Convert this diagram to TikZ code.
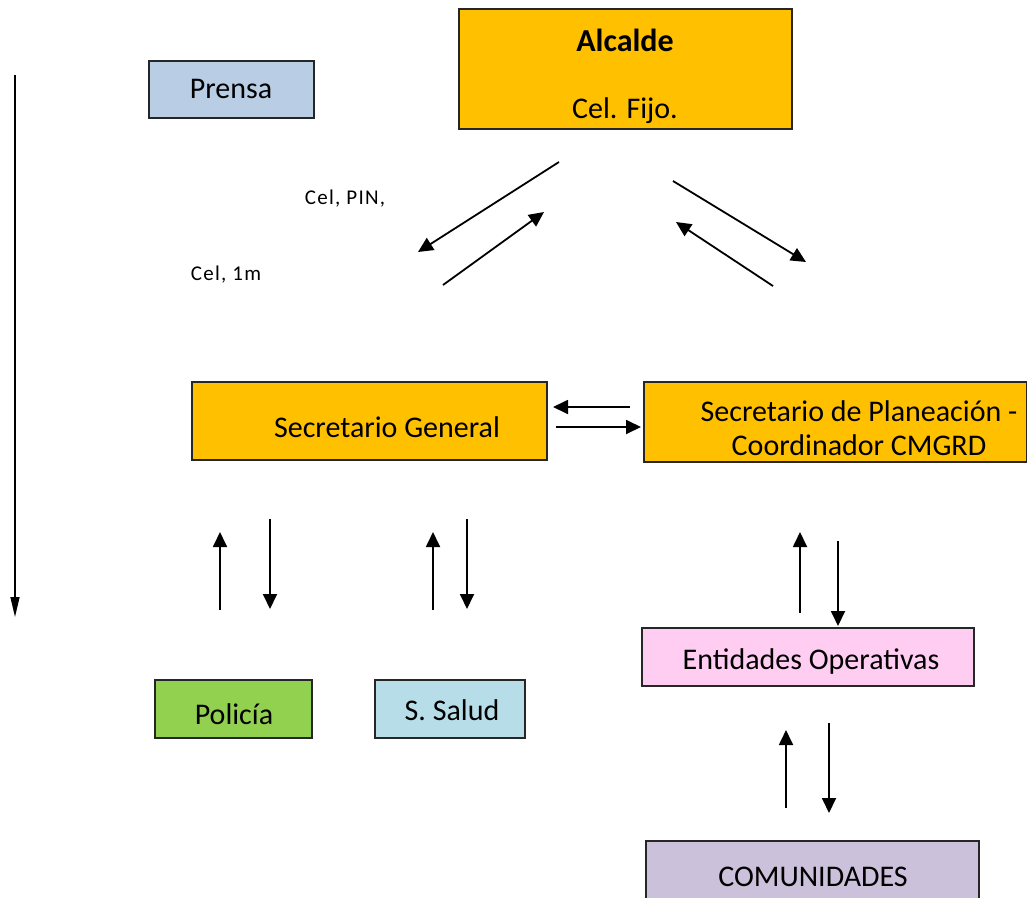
\documentclass[tikz,border=0pt]{standalone}
\usepackage{fontspec}
\setmainfont{Carlito}
\newfontfamily\smallsp[LetterSpace=6]{Carlito}
\usetikzlibrary{arrows.meta}
\definecolor{orangebox}{HTML}{FFC000}
\definecolor{prensabox}{HTML}{B9CDE5}
\definecolor{policiabox}{HTML}{92D050}
\definecolor{saludbox}{HTML}{B7DEE8}
\definecolor{entbox}{HTML}{FFCCF2}
\definecolor{combox}{HTML}{CCC1DA}
\tikzset{
  box/.style={draw=black!85, line width=2pt, rectangle, inner sep=0pt, anchor=north west},
  lbl/.style={font=\fontsize{30}{34}\selectfont, inner sep=0pt, align=center},
  small/.style={font=\fontsize{21}{24}\selectfont\smallsp, inner sep=0pt},
  arr/.style={line width=1.8pt, -{Triangle[length=15pt,width=14pt]}},
  thinarr/.style={line width=1.4pt, -{Triangle[length=20pt,width=9pt]}}
}
\begin{document}
\begin{tikzpicture}[x=1pt,y=-1pt]
\clip (0,0) rectangle (1027,897);
\fill[white] (0,0) rectangle (1027,897);
% boxes
\node[box, fill=orangebox, minimum width=333pt, minimum height=120pt] (alc) at (458,8) {};
\node[lbl, font=\fontsize{32}{36}\selectfont\bfseries] (alct) at (625,40) {Alcalde};
\node[lbl] (alcf) at (625,111) {Cel. Fijo.};
\node[box, fill=prensabox, minimum width=165pt, minimum height=57pt] (pre) at (148,60) {};
\node[lbl] (pret) at (231,89) {Prensa};
\node[box, fill=orangebox, minimum width=355pt, minimum height=78pt] (sg) at (191,381) {};
\node[lbl] (sgt) at (387,427) {Secretario General};
\node[box, fill=orangebox, minimum width=383pt, minimum height=80pt] (sp) at (643,381) {};
\node[lbl, font=\fontsize{30}{34}\selectfont] (spt) at (859,428) {Secretario de Planeación -\\Coordinador CMGRD};
\node[box, fill=entbox, minimum width=332pt, minimum height=58pt] (ent) at (641,627) {};
\node[lbl] (entt) at (811,661) {Entidades Operativas};
\node[box, fill=combox, minimum width=333pt, minimum height=70pt] (com) at (645,840) {};
\node[lbl] (comt) at (813,877) {COMUNIDADES};
\node[box, fill=policiabox, minimum width=157pt, minimum height=58pt] (pol) at (154,679) {};
\node[lbl] (polt) at (234,714) {Policía};
\node[box, fill=saludbox, minimum width=150pt, minimum height=58pt] (sal) at (374,679) {};
\node[lbl] (salt) at (452,710) {S. Salud};
% small labels
\node[small] (l1) at (345,199) {Cel, PIN,};
\node[small] (l2) at (226,275) {Cel, 1m};
% coordinates for free arrows
\coordinate (d1a) at (559,162); \coordinate (d1b) at (418,252);
\coordinate (d2a) at (443,285); \coordinate (d2b) at (544,212);
\coordinate (d3a) at (673,181); \coordinate (d3b) at (806,262);
\coordinate (d4a) at (773,286); \coordinate (d4b) at (676,222);
\coordinate (h1a) at (630,407); \coordinate (h1b) at (553,407);
\coordinate (h2a) at (556,427); \coordinate (h2b) at (641,427);
\coordinate (v1a) at (220,610); \coordinate (v1b) at (220,532);
\coordinate (v2a) at (270,519); \coordinate (v2b) at (270,609);
\coordinate (v3a) at (433,610); \coordinate (v3b) at (433,532);
\coordinate (v4a) at (467,519); \coordinate (v4b) at (467,609);
\coordinate (v5a) at (800,613); \coordinate (v5b) at (800,532);
\coordinate (v6a) at (838,541); \coordinate (v6b) at (838,626);
\coordinate (v7a) at (786,808); \coordinate (v7b) at (786,730);
\coordinate (v8a) at (829,723); \coordinate (v8b) at (829,813);
\coordinate (lta) at (15,75); \coordinate (ltb) at (15,617);
% arrows
\draw[arr] (d1a) -- (d1b);
\draw[arr] (d2a) -- (d2b);
\draw[arr] (d3a) -- (d3b);
\draw[arr] (d4a) -- (d4b);
\draw[arr] (h1a) -- (h1b);
\draw[arr] (h2a) -- (h2b);
\draw[arr] (v1a) -- (v1b);
\draw[arr] (v2a) -- (v2b);
\draw[arr] (v3a) -- (v3b);
\draw[arr] (v4a) -- (v4b);
\draw[arr] (v5a) -- (v5b);
\draw[arr] (v6a) -- (v6b);
\draw[arr] (v7a) -- (v7b);
\draw[arr] (v8a) -- (v8b);
\draw[thinarr] (lta) -- (ltb);
\end{tikzpicture}
\end{document}
